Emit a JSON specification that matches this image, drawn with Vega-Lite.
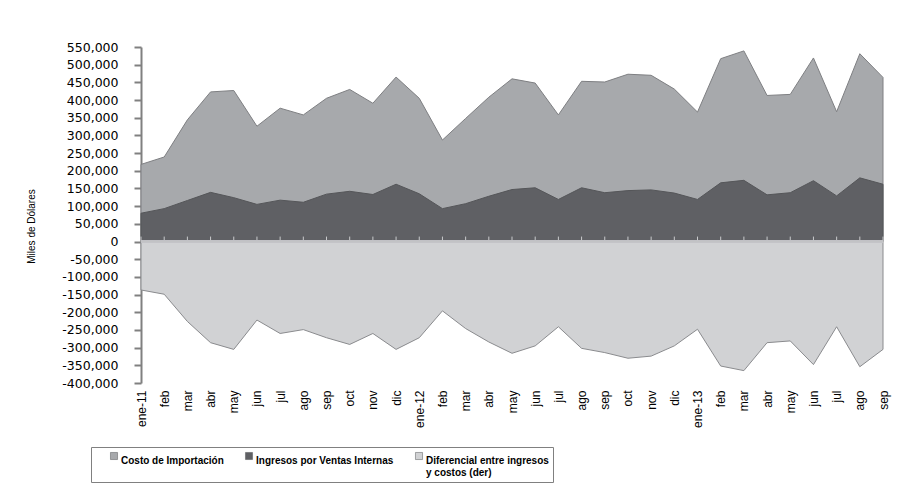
{
  "$schema": "https://vega.github.io/schema/vega-lite/v6.json",
  "width": 742,
  "height": 336,
  "autosize": "none",
  "padding": {"left": 141, "top": 47, "right": 18, "bottom": 111},
  "background": "white",
  "data": {
    "values": [
      {"mes": "ene-11", "costo": 218000, "ingresos": 80000, "dif": -137000},
      {"mes": "feb-11", "costo": 239000, "ingresos": 93000, "dif": -149000},
      {"mes": "mar-11", "costo": 344000, "ingresos": 116000, "dif": -226000},
      {"mes": "abr-11", "costo": 423000, "ingresos": 139000, "dif": -286000},
      {"mes": "may-11", "costo": 427000, "ingresos": 124000, "dif": -305000},
      {"mes": "jun-11", "costo": 326000, "ingresos": 105000, "dif": -222000},
      {"mes": "jul-11", "costo": 377000, "ingresos": 117000, "dif": -260000},
      {"mes": "ago-11", "costo": 358000, "ingresos": 111000, "dif": -249000},
      {"mes": "sep-11", "costo": 405000, "ingresos": 134000, "dif": -272000},
      {"mes": "oct-11", "costo": 430000, "ingresos": 142000, "dif": -291000},
      {"mes": "nov-11", "costo": 391000, "ingresos": 133000, "dif": -260000},
      {"mes": "dic-11", "costo": 465000, "ingresos": 162000, "dif": -305000},
      {"mes": "ene-12", "costo": 405000, "ingresos": 135000, "dif": -272000},
      {"mes": "feb-12", "costo": 287000, "ingresos": 93000, "dif": -196000},
      {"mes": "mar-12", "costo": 348000, "ingresos": 107000, "dif": -246000},
      {"mes": "abr-12", "costo": 408000, "ingresos": 128000, "dif": -284000},
      {"mes": "may-12", "costo": 460000, "ingresos": 147000, "dif": -316000},
      {"mes": "jun-12", "costo": 448000, "ingresos": 152000, "dif": -295000},
      {"mes": "jul-12", "costo": 358000, "ingresos": 119000, "dif": -241000},
      {"mes": "ago-12", "costo": 453000, "ingresos": 152000, "dif": -302000},
      {"mes": "sep-12", "costo": 451000, "ingresos": 138000, "dif": -314000},
      {"mes": "oct-12", "costo": 473000, "ingresos": 144000, "dif": -330000},
      {"mes": "nov-12", "costo": 470000, "ingresos": 146000, "dif": -324000},
      {"mes": "dic-12", "costo": 431000, "ingresos": 137000, "dif": -295000},
      {"mes": "ene-13", "costo": 366000, "ingresos": 119000, "dif": -248000},
      {"mes": "feb-13", "costo": 517000, "ingresos": 166000, "dif": -352000},
      {"mes": "mar-13", "costo": 539000, "ingresos": 173000, "dif": -365000},
      {"mes": "abr-13", "costo": 413000, "ingresos": 132000, "dif": -286000},
      {"mes": "may-13", "costo": 416000, "ingresos": 138000, "dif": -281000},
      {"mes": "jun-13", "costo": 519000, "ingresos": 172000, "dif": -348000},
      {"mes": "jul-13", "costo": 367000, "ingresos": 129000, "dif": -241000},
      {"mes": "ago-13", "costo": 531000, "ingresos": 180000, "dif": -354000},
      {"mes": "sep-13", "costo": 464000, "ingresos": 162000, "dif": -305000}
    ]
  },
  "encoding": {
    "x": {
      "field": "mes", "type": "ordinal", "sort": null,
      "scale": {"type": "point", "padding": 0},
      "axis": {
        "orient": "bottom", "title": null, "domain": false, "ticks": false, "grid": false,
        "labelAngle": 270, "labelAlign": "right", "labelBaseline": "middle", "labelPadding": 7,
        "labelFont": "Liberation Sans", "labelFontSize": 12, "labelColor": "#000000",
        "labelOverlap": false,
        "labelExpr": "indexof(datum.value, 'ene') == 0 ? datum.value : slice(datum.value, 0, 3)"
      }
    }
  },
  "layer": [
    {
      "mark": {"type": "area", "stroke": "#7e7f82", "strokeWidth": 1},
      "encoding": {
        "y": {
          "field": "costo", "type": "quantitative", "title": "Miles de Dólares",
          "scale": {"domain": [-400000, 550000], "nice": false, "zero": false},
          "axis": {
            "values": [-400000, -350000, -300000, -250000, -200000, -150000, -100000, -50000, 0, 50000, 100000, 150000, 200000, 250000, 300000, 350000, 400000, 450000, 500000, 550000],
            "labelExpr": "replace(format(datum.value, ','), '\u2212', '-')", "grid": false, "labelOverlap": false
          }
        },
        "color": {
          "datum": "Costo de Importación", "type": "nominal",
          "scale": {
            "domain": ["Costo de Importación", "Ingresos por Ventas Internas", "Diferencial entre ingresos y costos (der)"],
            "range": ["#a7a9ac", "#5f6064", "#d1d2d4"]
          },
          "legend": {
            "orient": "none", "legendX": -50, "legendY": 400,
            "title": " ", "titleOrient": "left", "titlePadding": 14, "titleFontSize": 10,
            "direction": "horizontal", "columns": 3, "columnPadding": 20,
            "symbolType": "square", "symbolSize": 50, "symbolStrokeColor": "#8a8a8a", "symbolStrokeWidth": 0.5,
            "labelFont": "Liberation Sans", "labelFontWeight": "bold", "labelFontSize": 10,
            "labelColor": "#000000", "labelLimit": 400, "labelOffset": 2, "labelBaseline": "top",
            "strokeColor": "#808080", "padding": 4,
            "labelExpr": "datum.label == 'Diferencial entre ingresos y costos (der)' ? ['Diferencial entre ingresos\u00a0\u00a0\u00a0\u00a0\u00a0\u00a0', 'y costos (der)'] : [datum.label, '\u00a0']"
          }
        }
      }
    },
    {
      "mark": {"type": "area", "stroke": "#555659", "strokeWidth": 1},
      "encoding": {
        "y": {
          "field": "ingresos", "type": "quantitative", "title": "Miles de Dólares",
          "axis": {
            "values": [-400000, -350000, -300000, -250000, -200000, -150000, -100000, -50000, 0, 50000, 100000, 150000, 200000, 250000, 300000, 350000, 400000, 450000, 500000, 550000],
            "labelExpr": "replace(format(datum.value, ','), '\u2212', '-')", "grid": false, "labelOverlap": false
          }
        },
        "color": {"datum": "Ingresos por Ventas Internas", "type": "nominal"}
      }
    },
    {
      "mark": {"type": "area", "stroke": "#8a8b8e", "strokeWidth": 1},
      "encoding": {
        "y": {
          "field": "dif", "type": "quantitative", "title": "Miles de Dólares",
          "axis": {
            "values": [-400000, -350000, -300000, -250000, -200000, -150000, -100000, -50000, 0, 50000, 100000, 150000, 200000, 250000, 300000, 350000, 400000, 450000, 500000, 550000],
            "labelExpr": "replace(format(datum.value, ','), '\u2212', '-')", "grid": false, "labelOverlap": false
          }
        },
        "color": {"datum": "Diferencial entre ingresos y costos (der)", "type": "nominal"}
      }
    },
    {
      "mark": {"type": "rule", "color": "#c9cacc", "strokeWidth": 1},
      "encoding": {
        "y": {
          "datum": 0, "type": "quantitative", "title": "Miles de Dólares",
          "axis": {
            "values": [-400000, -350000, -300000, -250000, -200000, -150000, -100000, -50000, 0, 50000, 100000, 150000, 200000, 250000, 300000, 350000, 400000, 450000, 500000, 550000],
            "labelExpr": "replace(format(datum.value, ','), '\u2212', '-')", "grid": false, "labelOverlap": false
          }
        },
        "y2": {"datum": 14000}
      }
    },
    {
      "mark": {"type": "rule", "color": "#c2c3c5", "strokeWidth": 1.5},
      "encoding": {
        "x": null,
        "y": {
          "datum": 0, "type": "quantitative", "title": "Miles de Dólares",
          "axis": {
            "values": [-400000, -350000, -300000, -250000, -200000, -150000, -100000, -50000, 0, 50000, 100000, 150000, 200000, 250000, 300000, 350000, 400000, 450000, 500000, 550000],
            "labelExpr": "replace(format(datum.value, ','), '\u2212', '-')", "grid": false, "labelOverlap": false
          }
        }
      }
    }
  ],
  "config": {
    "view": {"stroke": null},
    "axisY": {
      "labelFont": "DejaVu Sans", "labelFontSize": 12.5, "labelColor": "#000000", "labelPadding": 16,
      "domainColor": "#808080", "domainWidth": 2, "tickColor": "#808080", "tickWidth": 2, "tickSize": 7,
      "titleFont": "Liberation Sans", "titleFontSize": 10, "titleFontWeight": "normal", "titleColor": "#000000",
      "titleAngle": 270, "titleX": -110, "titleY": 179, "titleAlign": "center", "titleBaseline": "middle"
    }
  }
}
